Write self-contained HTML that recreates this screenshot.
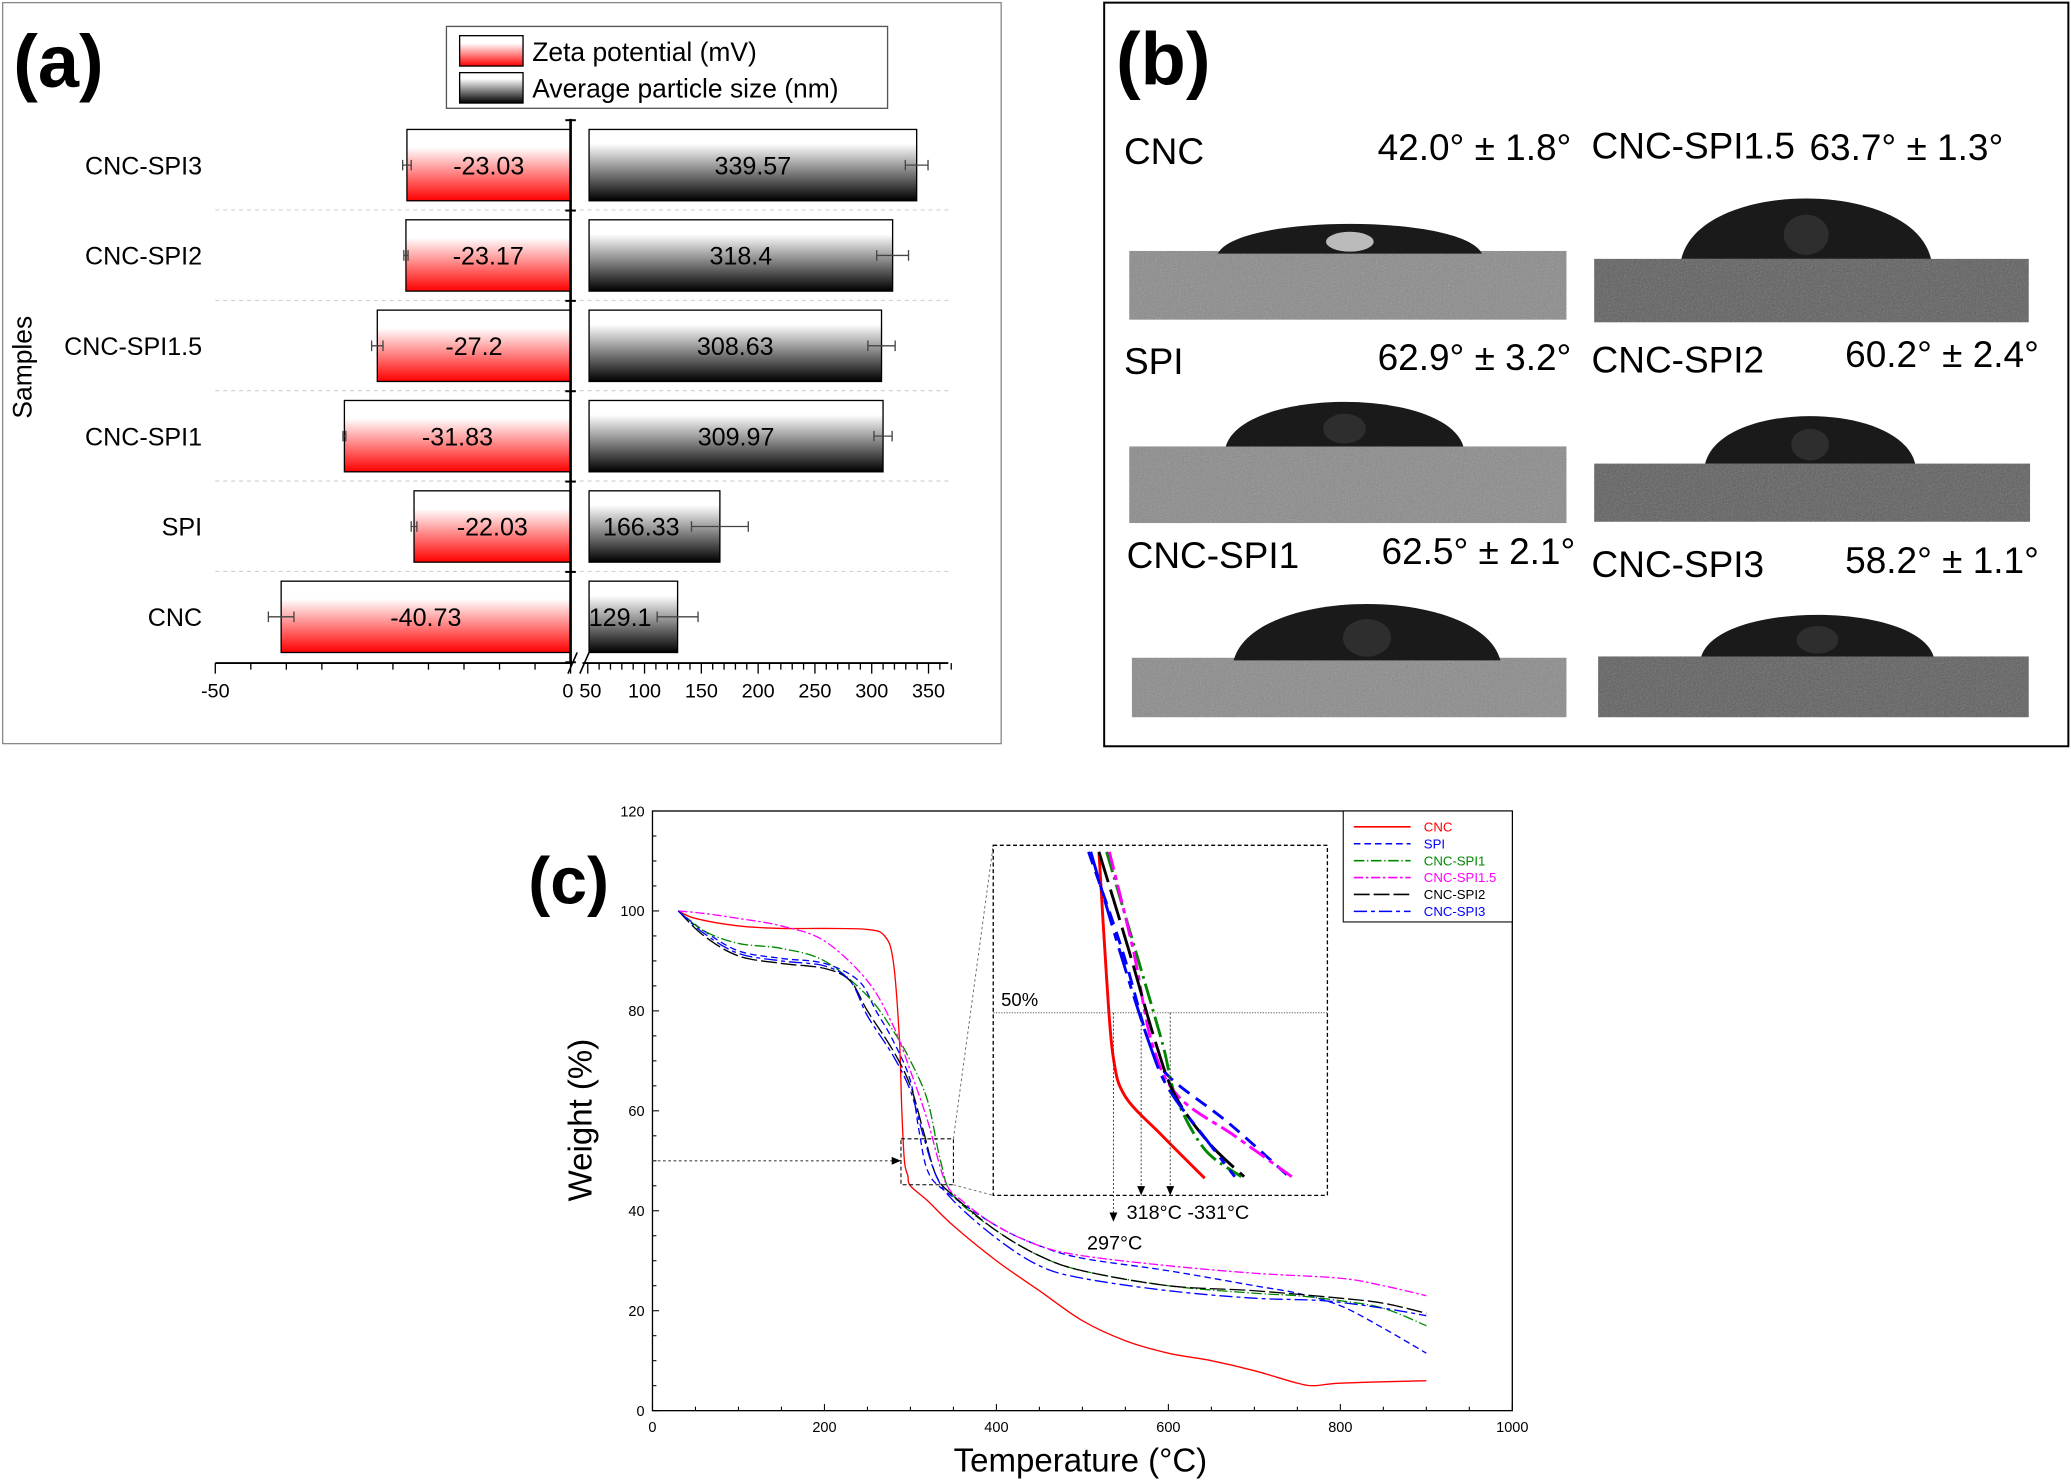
<!DOCTYPE html>
<html><head><meta charset="utf-8"><style>
html,body{margin:0;padding:0;background:#fff;}
svg{display:block;font-family:"Liberation Sans",sans-serif;}
</style></head><body>
<svg id="fig" width="2071" height="1480" viewBox="0 0 1568 1120.5" preserveAspectRatio="none" xmlns="http://www.w3.org/2000/svg">
<defs>
<linearGradient id="gRed" x1="0" y1="0" x2="0" y2="1"><stop offset="0" stop-color="#fff"/><stop offset="0.25" stop-color="#fff"/><stop offset="1" stop-color="#f00"/></linearGradient>
<linearGradient id="gBlk" x1="0" y1="0" x2="0" y2="1"><stop offset="0" stop-color="#fff"/><stop offset="0.2" stop-color="#fff"/><stop offset="1" stop-color="#000"/></linearGradient>
<filter id="noise" x="0" y="0" width="1" height="1" filterUnits="objectBoundingBox"><feTurbulence type="fractalNoise" baseFrequency="0.9" numOctaves="2" seed="3"/><feColorMatrix type="saturate" values="0"/><feComponentTransfer><feFuncA type="linear" slope="0.5"/></feComponentTransfer><feComposite in2="SourceGraphic" operator="in"/></filter>
</defs>
<rect x="2" y="2" width="756" height="561" fill="none" stroke="#888" stroke-width="1"/>
<rect x="836" y="2" width="730" height="563" fill="none" stroke="#000" stroke-width="1.5"/>
<text x="10" y="66" font-size="56" font-weight="bold">(a)</text>
<text x="845" y="64" font-size="56" font-weight="bold">(b)</text>
<text x="400" y="684" font-size="50" font-weight="bold">(c)</text>
<g id="ga"></g><g id="gb"></g><g id="gc"></g>
</svg>
<script>
const NS="http://www.w3.org/2000/svg";
function mk(p,tag,a,txt){const e=document.createElementNS(NS,tag);for(const k in a)e.setAttribute(k,a[k]);if(txt!==undefined)e.textContent=txt;p.appendChild(e);return e;}
function smooth(pts){let d='M'+pts[0][0]+' '+pts[0][1];for(let i=0;i<pts.length-1;i++){const p0=pts[Math.max(0,i-1)],p1=pts[i],p2=pts[i+1],p3=pts[Math.min(pts.length-1,i+2)];const c1x=p1[0]+(p2[0]-p0[0])/6,c1y=p1[1]+(p2[1]-p0[1])/6,c2x=p2[0]-(p3[0]-p1[0])/6,c2y=p2[1]-(p3[1]-p1[1])/6;d+=`C${c1x} ${c1y} ${c2x} ${c2y} ${p2[0]} ${p2[1]}`;}return d;}

// ---------- Panel (a) data ----------
const samples=["CNC-SPI3","CNC-SPI2","CNC-SPI1.5","CNC-SPI1","SPI","CNC"];
const zeta=[-23.03,-23.17,-27.2,-31.83,-22.03,-40.73];
const zetaErr=[0.6,0.3,0.8,0.2,0.4,1.8];
const psize=[339.57,318.4,308.63,309.97,166.33,129.1];
const psizeErr=[10,14,12,8,25,18];
const sizeTicks=[50,100,150,200,250,300,350];

const ga=document.getElementById('ga');
const zx=v=>432+(v)*(432-163)/50;
const sx=v=>445+(v-50)*0.86;
const rowY=i=>125+i*68.4;
const BH=54;
let lg=mk(ga,'rect',{x:338,y:20,width:334,height:62,fill:'#fff',stroke:'#555','stroke-width':1});

let s1=mk(ga,'rect',{x:348,y:27,width:48,height:23,fill:'url(#gRed)',stroke:'#000'});

let s2=mk(ga,'rect',{x:348,y:55,width:48,height:23,fill:'url(#gBlk)',stroke:'#000'});

let t1=mk(ga,'text',{x:403,y:46,'font-size':20},'Zeta potential (mV)');

let t2=mk(ga,'text',{x:403,y:74,'font-size':20},'Average particle size (nm)');

for(let i=0;i<samples.length-1;i++){
  let l=mk(ga,'line',{x1:163,x2:718,y1:rowY(i)+34,y2:rowY(i)+34,stroke:'#ccc','stroke-dasharray':'3,3','stroke-width':0.8});
  
}
samples.forEach((s,i)=>{
  const y=rowY(i);
  let lab=mk(ga,'text',{x:153,y:y+7,'font-size':19,'text-anchor':'end'},s);
  
  let zb=mk(ga,'rect',{x:zx(zeta[i]),y:y-BH/2,width:432-zx(zeta[i]),height:BH,fill:'url(#gRed)',stroke:'#000','stroke-width':1});
  
  let zt=mk(ga,'text',{x:(zx(zeta[i])+432)/2,y:y+7,'font-size':19,'text-anchor':'middle'},String(zeta[i]));
  
  let ze=mk(ga,'path',{d:`M${zx(zeta[i]-zetaErr[i])} ${y}H${zx(zeta[i]+zetaErr[i])}M${zx(zeta[i]-zetaErr[i])} ${y-4}v8M${zx(zeta[i]+zetaErr[i])} ${y-4}v8`,stroke:'#444',fill:'none','stroke-width':1});
  
  let sb=mk(ga,'rect',{x:446,y:y-BH/2,width:sx(psize[i])-446,height:BH,fill:'url(#gBlk)',stroke:'#000','stroke-width':1});
  
  const cx=psize[i]>200?(446+sx(psize[i]))/2:(446+sx(psize[i])-30)/2+5;
  let st=mk(ga,'text',{x:cx,y:y+7,'font-size':19,'text-anchor':'middle'},String(psize[i]));
  
  let se=mk(ga,'path',{d:`M${sx(psize[i]-psizeErr[i])} ${y}H${sx(psize[i]+psizeErr[i])}M${sx(psize[i]-psizeErr[i])} ${y-4}v8M${sx(psize[i]+psizeErr[i])} ${y-4}v8`,stroke:'#444',fill:'none','stroke-width':1});
  
});
let va=mk(ga,'line',{x1:432,x2:432,y1:90,y2:502,stroke:'#000','stroke-width':2});

for(let i=0;i<=samples.length;i++){let tk=mk(ga,'line',{x1:428,x2:436,y1:rowY(i)-34,y2:rowY(i)-34,stroke:'#000','stroke-width':1.5});}
let xa=mk(ga,'path',{d:'M163 502H433M441 502H718',stroke:'#000','stroke-width':1.5,fill:'none'});

let br=mk(ga,'path',{d:'M430 510L437 494M439 510L446 494',stroke:'#000','stroke-width':1.2,fill:'none'});

for(let v=-50;v<=0;v+=5){let tk=mk(ga,'line',{x1:zx(v),x2:zx(v),y1:502,y2:v%50===0?510:507,stroke:'#000'});}
for(let v=50;v<=370;v+=10){let tk=mk(ga,'line',{x1:sx(v),x2:sx(v),y1:502,y2:v%50===0?510:507,stroke:'#000'});}
[[-50,zx(-50)],[0,zx(0)-2]].forEach(([v,x])=>{let t=mk(ga,'text',{x:x,y:528,'font-size':15,'text-anchor':'middle'},String(v));});
sizeTicks.forEach(v=>{let t=mk(ga,'text',{x:sx(v)+(v===50?2:0),y:528,'font-size':15,'text-anchor':'middle'},String(v));});
let yt=mk(ga,'text',{x:24,y:278,'font-size':20,'text-anchor':'middle',transform:'rotate(-90 24 278)'},'Samples');


// ---------- Panel (b) ----------
const gb=document.getElementById('gb');
const bNames=["CNC","CNC-SPI1.5","SPI","CNC-SPI2","CNC-SPI1","CNC-SPI3"];
const bAngles=["42.0° ± 1.8°","63.7° ± 1.3°","62.9° ± 3.2°","60.2° ± 2.4°","62.5° ± 2.1°","58.2° ± 1.1°"];
const cells=[
 {nx:851,ny:124,ax:1043,ay:121,sub:[855,190,331,52],drop:[922,1122,162,192]},
 {nx:1205,ny:120,ax:1370,ay:121,sub:[1207,196,329,48],drop:[1273,1462,135,196]},
 {nx:851,ny:283,ax:1043,ay:280,sub:[855,338,331,58],drop:[928,1108,293,338]},
 {nx:1205,ny:282,ax:1397,ay:278,sub:[1207,351,330,44],drop:[1291,1450,303,351]},
 {nx:853,ny:430,ax:1046,ay:427,sub:[857,498,329,45],drop:[934,1136,443,500]},
 {nx:1205,ny:437,ax:1397,ay:434,sub:[1210,497,326,46],drop:[1288,1464,455,497]}];
cells.forEach((c,i)=>{
  let s=mk(gb,'rect',{x:c.sub[0],y:c.sub[1],width:c.sub[2],height:c.sub[3],fill:i%2?'#5e5e5e':'#8a8a8a'});
  
  let n=mk(gb,'rect',{x:c.sub[0],y:c.sub[1],width:c.sub[2],height:c.sub[3],fill:'#888',filter:'url(#noise)',opacity:0.7});
  
  const [x1,x2,top,base]=c.drop, w=(x2-x1)/2, h=base-top;
  let d=mk(gb,'path',{d:`M${x1} ${base}C${x1+w*0.15} ${top} ${x2-w*0.15} ${top} ${x2} ${base}Z`,fill:'#1a1a1a'});
  
  let hl=mk(gb,'ellipse',{cx:x1+w,cy:base-h*0.3,rx:w*0.18,ry:h*0.25,fill:i===0?'#bbb':'#2e2e2e'});
  
  let tn=mk(gb,'text',{x:c.nx,y:c.ny,'font-size':28},bNames[i]);
  
  let ta=mk(gb,'text',{x:c.ax,y:c.ay,'font-size':28},bAngles[i]);
  
});

// ---------- Panel (c) data ----------
const seriesNames=["CNC","SPI","CNC-SPI1","CNC-SPI1.5","CNC-SPI2","CNC-SPI3"];
const T_CNC=[30,50,100,150,200,250,270,280,287,290,293,297,300,320,350,400,450,500,550,600,650,700,750,770,800,900];
const W_CNC=[100,98.5,97,96.5,96.5,96.3,95,90,75,60,50,47,45,42,37,30,24,18,14,11.5,10,8,5.5,5,5.5,6];
const T_SPI=[30,60,100,150,200,240,260,280,300,310,320,340,400,450,500,600,700,750,800,850,900];
const W_SPI=[100,96,92,90.5,89.5,86,80,74,66,56,48,44,37,33,30.5,28,25,23.5,21,16.5,11.5];
const T_S1=[30,60,100,150,200,250,280,300,320,335,350,400,450,500,600,700,750,800,850,900];
const W_S1=[100,96,93.5,92.5,90,83,76,70,62,50,43,36,31,28,25,23.5,23,22,20.5,17];
const T_S15=[30,60,100,150,200,250,280,300,320,340,360,400,450,500,600,700,800,850,900];
const W_S15=[100,99.5,98.5,97,94,86,77,68,58,46,42,37,33,31,29,27.5,26.5,25,23];
const T_S2=[30,60,100,150,200,230,250,280,300,315,330,350,400,450,500,600,700,800,850,900];
const W_S2=[100,95,91,89.5,88.5,86,80,72,65,56,47,43,36,31,28,25,24,22.5,21.5,19.5];
const T_S3=[30,60,100,150,200,230,250,280,300,315,330,350,400,450,500,600,700,780,850,900];
const W_S3=[100,95.5,91.5,90,89,86,79,71,64,55,47,42,34.5,29,26.5,24,22.5,22,20.5,19];
const iT_CNC=[308.3,309.7,310.9,313.1,319.9,327.6];
const iW_CNC=[54.23,50.9,48.84,47.8,46.76,45.65];
const iT_SPI=[306.4,312.6,317.5,321.1,331.9,343.0];
const iW_SPI=[54.23,51.62,49.19,48.32,47.11,45.69];
const iT_S1=[309.7,315.0,319.9,322.3,327.6,334.3];
const iW_S1=[54.23,51.62,49.19,47.8,46.41,45.69];
const iT_S15=[310.2,314.6,318.0,322.8,333.1,343.5];
const iW_S15=[54.23,51.62,49.19,47.8,46.76,45.69];
const iT_S2=[308.3,313.8,318.7,322.3,328.3,334.8];
const iW_S2=[54.23,51.62,49.19,47.8,46.59,45.69];
const iT_S3=[306.8,312.1,317.5,321.1,328.3,333.1];
const iW_S3=[54.23,51.62,49.19,47.98,46.59,45.69];
const yTicks=[0,20,40,60,80,100,120];
const xTicks=[0,200,400,600,800,1000];

const gc=document.getElementById('gc');
const PX0=494,PX1=1145,PY0=1068,PY1=614;
const cx=t=>PX0+t/1000*(PX1-PX0);
const cy=w=>PY0-w/120*(PY0-PY1);
const IX0=752,IX1=1005,IY0=640,IY1=905;
const ix=t=>IX0+(t-289)/61*(IX1-IX0);
const iy=w=>IY0+(54.4-w)/9.2*(IY1-IY0);
const styles=[
 {c:'#f00',d:''},{c:'#00f',d:'5,3'},{c:'#080',d:'8,2,1,2'},{c:'#f0f',d:'7,2,2,2'},{c:'#000',d:'12,3'},{c:'#00f',d:'10,3,3,3'}];
const sets=[[T_CNC,W_CNC],[T_SPI,W_SPI],[T_S1,W_S1],[T_S15,W_S15],[T_S2,W_S2],[T_S3,W_S3]];
const isets=[[iT_CNC,iW_CNC],[iT_SPI,iW_SPI],[iT_S1,iW_S1],[iT_S15,iW_S15],[iT_S2,iW_S2],[iT_S3,iW_S3]];

let frame=mk(gc,'rect',{x:PX0,y:PY1,width:PX1-PX0,height:PY0-PY1,fill:'none',stroke:'#000','stroke-width':1});

for(let w=0;w<=120;w+=5){let tk=mk(gc,'line',{x1:PX0,x2:PX0+(w%20===0?5:3),y1:cy(w),y2:cy(w),stroke:'#000','stroke-width':0.8});}
for(let t=0;t<=1000;t+=50){let tk=mk(gc,'line',{x1:cx(t),x2:cx(t),y1:PY0,y2:PY0-(t%200===0?5:3),stroke:'#000','stroke-width':0.8});}
yTicks.forEach(v=>{let t=mk(gc,'text',{x:PX0-6,y:cy(v)+4,'font-size':11,'text-anchor':'end'},String(v));});
xTicks.forEach(v=>{let t=mk(gc,'text',{x:cx(v),y:PY0+16,'font-size':11,'text-anchor':'middle'},String(v));});
let yT=mk(gc,'text',{x:448,y:848,'font-size':25,'text-anchor':'middle',transform:'rotate(-90 448 848)'},'Weight (%)');

let xT=mk(gc,'text',{x:818,y:1114,'font-size':25,'text-anchor':'middle'},'Temperature (°C)');


sets.forEach(([T,W],k)=>{
  let p=mk(gc,'path',{d:smooth(T.map((t,i)=>[cx(t),cy(W[i])])),fill:'none',stroke:styles[k].c,'stroke-width':1,'stroke-dasharray':styles[k].d});
  
});
let zb=mk(gc,'rect',{x:cx(289),y:cy(54.4),width:cx(350)-cx(289),height:cy(45.2)-cy(54.4),fill:'none',stroke:'#000','stroke-dasharray':'3,2','stroke-width':0.8});

let cn=mk(gc,'path',{d:`M${cx(350)} ${cy(54.4)}L${IX0} ${IY0}M${cx(350)} ${cy(45.2)}L${IX0} ${IY1}`,stroke:'#666','stroke-dasharray':'2,2','stroke-width':0.7,fill:'none'});

let ar=mk(gc,'path',{d:`M${PX0} ${cy(50)}H${cx(289)-2}`,stroke:'#444','stroke-dasharray':'2,2','stroke-width':0.8,fill:'none'});

let ah=mk(gc,'path',{d:`M${cx(289)-7} ${cy(50)-3}L${cx(289)} ${cy(50)}L${cx(289)-7} ${cy(50)+3}Z`,fill:'#000'});

let ib=mk(gc,'rect',{x:IX0,y:IY0,width:IX1-IX0,height:IY1-IY0,fill:'#fff',stroke:'#000','stroke-dasharray':'3,2','stroke-width':1});

let fl=mk(gc,'line',{x1:IX0,x2:IX1,y1:iy(50),y2:iy(50),stroke:'#666','stroke-dasharray':'1,1','stroke-width':0.8});

let ft=mk(gc,'text',{x:758,y:iy(50)-5,'font-size':14},'50%');

isets.forEach(([T,W],k)=>{
  let p=mk(gc,'path',{d:smooth(T.map((t,i)=>[ix(t),iy(W[i])])),fill:'none',stroke:styles[k].c,'stroke-width':2.2,'stroke-dasharray':styles[k].d?styles[k].d.split(',').map(v=>v*2).join(','):''});
  
});
[[843,925],[864,905],[886,905]].forEach(([x,y2])=>{
  let l=mk(gc,'line',{x1:x,x2:x,y1:iy(50),y2:y2,stroke:'#333','stroke-dasharray':'1.5,1.5','stroke-width':0.7});
  
  let a=mk(gc,'path',{d:`M${x-3} ${y2-7}L${x} ${y2}L${x+3} ${y2-7}Z`,fill:'#000'});
  
});
let a1=mk(gc,'text',{x:853,y:923,'font-size':15},'318°C -331°C');

let a2=mk(gc,'text',{x:823,y:946,'font-size':15},'297°C');

let lc=mk(gc,'rect',{x:1017,y:614,width:128,height:84,fill:'#fff',stroke:'#000','stroke-width':0.8});

seriesNames.forEach((n,k)=>{
  const y=626+k*12.8;
  let l=mk(gc,'line',{x1:1025,x2:1068,y1:y,y2:y,stroke:styles[k].c,'stroke-width':1.2,'stroke-dasharray':styles[k].d});
  
  let t=mk(gc,'text',{x:1078,y:y+3.5,'font-size':10,fill:styles[k].c},n);
  
});
</script>
</body></html>
